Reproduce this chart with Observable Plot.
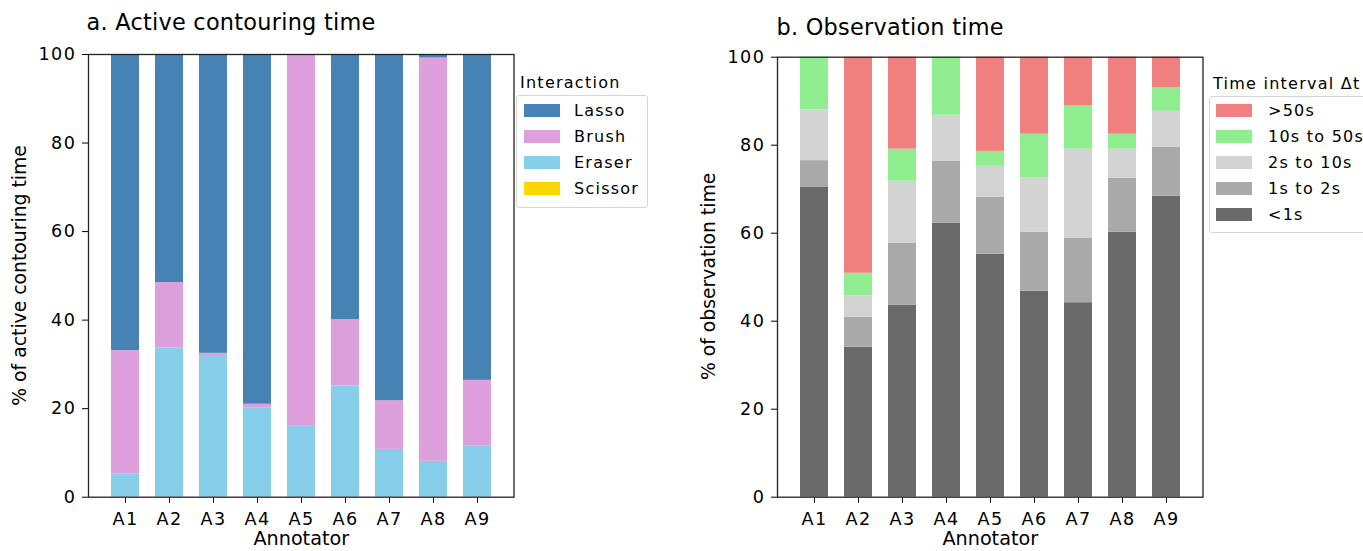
<!DOCTYPE html>
<html>
<head>
<meta charset="utf-8">
<script src="https://cdn.jsdelivr.net/npm/d3@7"></script>
<script src="https://cdn.jsdelivr.net/npm/@observablehq/plot@0.6"></script>
<style>
  html, body { margin: 0; padding: 0; background: #fff; }
  #wrap { position: relative; width: 1363px; height: 551px; overflow: hidden; font-family: "DejaVu Sans", sans-serif; color: #000; }
  .abs { position: absolute; white-space: nowrap; }
  .title { font-size: 22.4px; line-height: 22.4px; letter-spacing: 0.25px; }
  .lg { font-size: 16px; line-height: 16px; letter-spacing: 1.25px; }
  .ylab { font-size: 18.8px; line-height: 18.8px; width: 400px; text-align: center; transform: rotate(-90deg); transform-origin: 50% 50%; }
  .box { position: absolute; border: 1px solid #d6d6d6; border-radius: 3px; background: #fff; }
  .sw { position: absolute; width: 36px; height: 13px; }
  #wrap svg { overflow: visible; max-width: none !important; }
  #wrap svg text { font-family: "DejaVu Sans", sans-serif; fill: #000; }
</style>
</head>
<body>
<div id="wrap"></div>
<script>
// ---------- data ----------
const annotators = ["A1", "A2", "A3", "A4", "A5", "A6", "A7", "A8", "A9"];
const yTicks = [0, 20, 40, 60, 80, 100];

// Panel a: % of active contouring time
const interactionSeries = ["Lasso", "Brush", "Eraser", "Scissor"];
const interactionColors = ["#4682b4", "#dda0dd", "#87ceeb", "#ffd700"];
const eraser  = [5.3, 33.7, 32.0, 20.1, 16.0, 25.1, 10.8, 8.1, 11.5];
const brush   = [27.8, 14.8, 0.5, 0.9, 84.0, 15.0, 11.0, 91.1, 14.9];
const lasso   = [66.9, 51.5, 67.5, 79.0, 0.0, 59.9, 78.2, 0.8, 73.6];
const scissor = [0, 0, 0, 0, 0, 0, 0, 0, 0];

// Panel b: % of observation time
const intervalSeries = [">50s", "10s to 50s", "2s to 10s", "1s to 2s", "<1s"];
const intervalColors = ["#f08080", "#90ee90", "#d3d3d3", "#a9a9a9", "#696969"];
const lt1     = [70.5, 34.1, 43.6, 62.3, 55.2, 46.8, 44.2, 60.2, 68.4];
const s1to2   = [6.0, 6.8, 14.1, 14.1, 13.0, 13.4, 14.6, 12.3, 11.1];
const s2to10  = [11.5, 4.9, 14.1, 10.4, 7.0, 12.3, 20.3, 6.6, 8.2];
const s10to50 = [12.0, 5.1, 7.3, 13.2, 3.4, 10.0, 9.8, 3.4, 5.3];
const gt50    = [0.0, 49.1, 20.9, 0.0, 21.4, 17.5, 11.1, 17.5, 7.0];

// ---------- build tables ----------
const seriesA = [["Eraser", eraser], ["Brush", brush], ["Lasso", lasso], ["Scissor", scissor]];
const dataA = annotators.flatMap((a, i) => seriesA.map(([s, arr]) => ({annotator: a, series: s, value: arr[i]})));
const seriesB = [["<1s", lt1], ["1s to 2s", s1to2], ["2s to 10s", s2to10], ["10s to 50s", s10to50], [">50s", gt50]];
const dataB = annotators.flatMap((a, i) => seriesB.map(([s, arr]) => ({annotator: a, series: s, value: arr[i]})));

const wrap = document.getElementById("wrap");
const xLabel = "Annotator";

function panel({data, order, domain, range, mt}) {
  const svg = Plot.plot({
    width: 530, height: 551,
    marginLeft: 88, marginRight: 16.5, marginTop: mt, marginBottom: 54.3,
    style: {fontFamily: "DejaVu Sans", fontSize: "17.6px", color: "black", background: "transparent", overflow: "visible"},
    x: {domain: annotators, paddingInner: 0.37, paddingOuter: 0.431, tickSize: 6, tickPadding: 9.5, label: null},
    y: {domain: [0, 100], ticks: yTicks, tickSize: 6, tickPadding: 6, label: null},
    color: {domain, range},
    marks: [
      Plot.barY(data, {x: "annotator", y: "value", fill: "series", order}),
      Plot.frame({stroke: "#222", strokeWidth: 1.3}),
      Plot.text([xLabel], {text: d => d, frameAnchor: "bottom", dy: 47.9, fontSize: 19.2})
    ]
  });
  svg.querySelectorAll("text").forEach(t => {
    if (t.textContent !== xLabel) t.style.letterSpacing = "1.5px";
  });
  return svg;
}

function place(el, left, top) {
  const d = document.createElement("div");
  d.className = "abs";
  d.style.left = left + "px";
  d.style.top = top + "px";
  d.appendChild(el);
  wrap.appendChild(d);
  return d;
}

function text(str, cls, left, baseline, size) {
  const d = document.createElement("div");
  d.className = "abs " + cls;
  d.textContent = str;
  d.style.left = left + "px";
  d.style.top = (baseline - 0.846 * size) + "px";
  wrap.appendChild(d);
  return d;
}

function yLabel(str, cx, cy) {
  const d = document.createElement("div");
  d.className = "abs ylab";
  d.textContent = str;
  d.style.left = (cx - 200) + "px";
  d.style.top = (cy - 9.4) + "px";
  wrap.appendChild(d);
}

function legend({title, items, colors, boxLeft, boxTop, boxW, boxH, titleBase, swLeft, labelLeft, firstCenter}) {
  const box = document.createElement("div");
  box.className = "box";
  Object.assign(box.style, {left: boxLeft + "px", top: boxTop + "px", width: boxW + "px", height: boxH + "px"});
  wrap.appendChild(box);
  text(title, "lg", boxLeft + 4, titleBase, 16);
  items.forEach((it, i) => {
    const c = firstCenter + 26 * i;
    const sw = document.createElement("div");
    sw.className = "sw";
    Object.assign(sw.style, {left: swLeft + "px", top: (c - 6.5) + "px", background: colors[i]});
    wrap.appendChild(sw);
    text(it, "lg", labelLeft, c + 5.8, 16);
  });
}

place(panel({data: dataA, order: ["Eraser", "Brush", "Lasso", "Scissor"], domain: interactionSeries, range: interactionColors, mt: 54}), 0, 0);
place(panel({data: dataB, order: ["<1s", "1s to 2s", "2s to 10s", "10s to 50s", ">50s"], domain: intervalSeries, range: intervalColors, mt: 56.7}), 688.7, 0);

yLabel("% of active contouring time", 20.2, 275.5);
yLabel("% of observation time", 708.9, 276.7);

text("a. Active contouring time", "title", 86.5, 30, 22.4);
text("b. Observation time", "title", 776.5, 35, 22.4);

legend({title: "Interaction", items: interactionSeries, colors: interactionColors,
  boxLeft: 516, boxTop: 95, boxW: 130, boxH: 111, titleBase: 88.5, swLeft: 524, labelLeft: 574, firstCenter: 110.5});
legend({title: "Time interval \u0394t", items: intervalSeries, colors: intervalColors,
  boxLeft: 1209, boxTop: 96, boxW: 170, boxH: 135, titleBase: 89.3, swLeft: 1216, labelLeft: 1268, firstCenter: 110.3});
</script>
</body>
</html>
